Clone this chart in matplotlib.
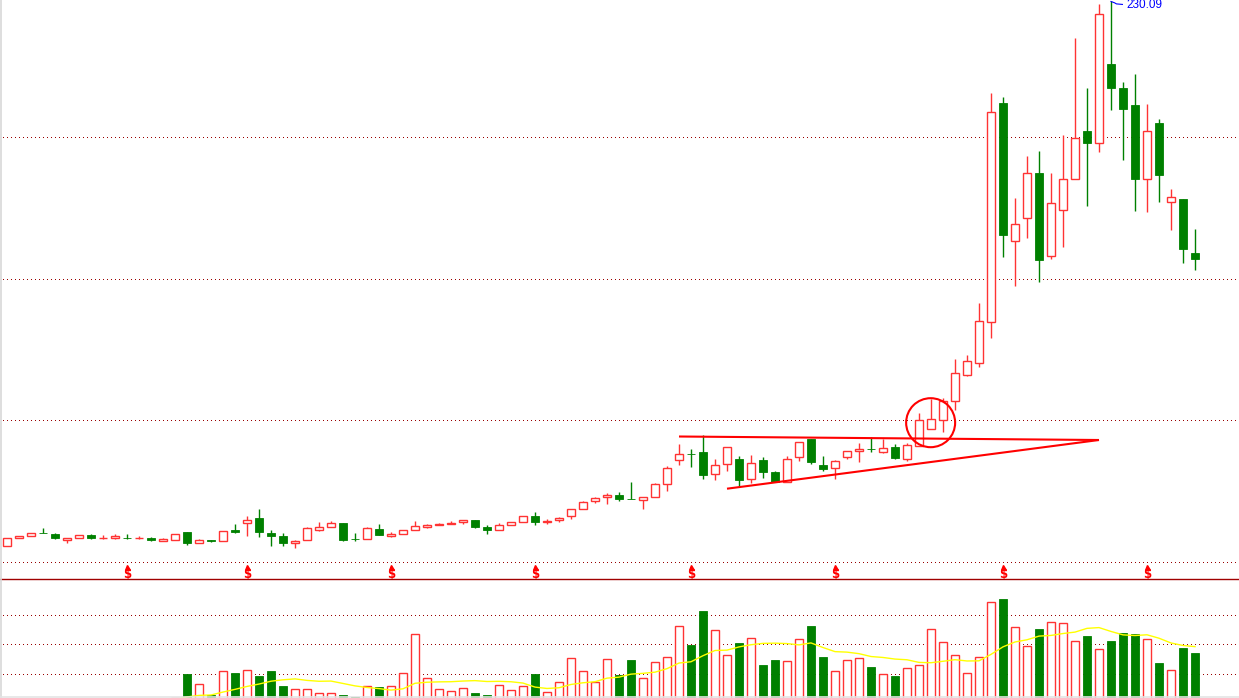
import matplotlib
matplotlib.use("Agg")
import matplotlib.pyplot as plt
from matplotlib.patches import Rectangle, Ellipse
from matplotlib.lines import Line2D
import numpy as np

# ---------------- data ----------------
opens = [26.01, 28.79, 29.54, 30.89, 30.40, 28.26, 28.79, 29.91, 28.79, 28.79,
         28.98, 28.79, 28.90, 27.89, 28.26, 31.15, 26.91, 28.11, 27.89, 31.90,
         34.41, 36.40, 30.78, 29.65, 26.91, 28.04, 32.01, 32.91, 34.53, 28.53,
         28.41, 32.28, 29.76, 30.29, 31.79, 33.14, 33.66, 34.04, 34.79, 35.65,
         33.14, 31.79, 33.66, 34.79, 37.15, 34.79, 35.54, 37.04, 39.66, 42.66,
         44.16, 45.03, 43.53, 43.26, 44.16, 49.04, 58.04, 60.48, 61.04, 52.79,
         56.54, 58.41, 50.91, 58.04, 53.54, 49.90, 59.28, 66.14, 56.28, 55.04,
         59.16, 61.41, 62.46, 61.26, 63.03, 58.53, 63.40, 69.66, 73.26, 80.16,
         90.14, 94.41, 109.79, 192.03, 140.16, 148.79, 165.78, 134.54, 151.79, 163.41,
         181.53, 176.91, 206.65, 197.65, 191.28, 163.41, 184.53, 154.79, 156.03, 135.78]

highs = [28.79, 29.54, 30.66, 32.54, 30.89, 28.79, 29.91, 30.40, 29.91, 30.40,
         30.40, 29.65, 29.16, 28.79, 30.40, 31.15, 28.41, 28.26, 31.64, 34.15,
         37.15, 39.78, 31.90, 30.78, 28.15, 32.91, 34.90, 35.16, 34.53, 30.78,
         33.03, 34.15, 31.04, 31.79, 35.28, 34.04, 34.41, 35.28, 35.65, 35.65,
         33.66, 34.41, 34.79, 37.04, 38.65, 35.91, 36.78, 39.66, 42.89, 44.16,
         45.66, 46.15, 49.90, 44.39, 49.53, 55.79, 64.15, 62.16, 67.53, 58.41,
         62.91, 59.65, 60.03, 59.16, 54.03, 59.54, 64.79, 66.14, 59.65, 58.15,
         61.41, 64.53, 66.89, 66.14, 64.04, 64.53, 75.66, 81.03, 81.29, 96.03,
         97.53, 117.03, 195.78, 194.28, 156.40, 172.15, 174.03, 165.78, 180.03, 216.40,
         197.65, 229.15, 230.09, 199.90, 202.90, 191.65, 186.03, 159.78, 156.03, 144.78]

lows = [26.01, 28.79, 29.54, 30.66, 28.64, 27.14, 28.79, 28.64, 28.64, 28.64,
        28.64, 28.64, 27.89, 27.89, 28.26, 26.39, 26.91, 27.51, 27.89, 30.89,
        29.76, 29.39, 26.01, 26.01, 25.15, 28.04, 31.64, 32.91, 27.89, 27.89,
        28.41, 29.91, 29.16, 30.29, 31.79, 32.76, 33.66, 34.04, 34.26, 32.76,
        30.51, 31.79, 33.66, 34.79, 33.89, 34.26, 34.79, 36.14, 39.66, 42.14,
        41.76, 42.89, 43.34, 39.89, 44.16, 46.64, 56.39, 55.64, 51.14, 50.76,
        54.14, 48.51, 49.41, 51.51, 49.90, 49.90, 57.89, 56.76, 54.14, 51.03,
        58.64, 57.51, 61.26, 60.89, 58.53, 57.89, 63.40, 69.66, 68.76, 77.01,
        89.76, 93.14, 104.01, 134.39, 123.51, 141.51, 125.01, 133.64, 138.14, 163.41,
        153.51, 173.76, 189.51, 170.76, 151.64, 151.26, 155.01, 144.51, 132.14, 129.51]

closes = [28.79, 29.54, 30.66, 30.66, 29.01, 28.79, 29.91, 29.01, 28.94, 29.54,
          28.79, 28.94, 28.26, 28.53, 30.40, 27.03, 28.15, 27.96, 31.53, 31.15,
          35.54, 31.26, 29.76, 27.14, 27.78, 32.54, 33.03, 34.41, 28.26, 28.34,
          32.54, 30.14, 30.51, 31.79, 33.29, 33.78, 34.15, 34.53, 35.65, 33.14,
          32.01, 33.66, 34.79, 37.04, 35.01, 35.28, 36.40, 39.66, 42.40, 43.79,
          44.91, 43.64, 43.41, 44.16, 49.15, 55.04, 60.29, 60.29, 52.64, 56.16,
          62.91, 50.76, 56.91, 53.76, 49.90, 58.41, 64.79, 57.51, 54.89, 57.78,
          61.41, 62.16, 62.28, 62.76, 59.01, 63.78, 73.04, 73.41, 80.16, 90.66,
          95.28, 110.16, 188.54, 142.64, 146.54, 165.66, 133.26, 154.41, 163.41, 178.79,
          177.14, 225.29, 197.76, 189.89, 163.64, 181.41, 165.14, 156.66, 137.39, 133.64]

volumes = [1.2, 1.0, 1.3, 1.5, 1.4, 1.1, 1.2, 1.6, 1.0, 1.3,
           1.5, 1.2, 1.4, 1.1, 1.8, 10.0, 6.6, 2.9, 11.0, 10.4,
           11.4, 9.3, 11.0, 5.9, 4.9, 4.9, 3.6, 3.6, 2.9, 2.2,
           5.9, 5.6, 5.9, 10.3, 23.6, 8.5, 4.8, 4.1, 5.2, 3.6,
           2.9, 6.2, 4.5, 5.8, 10.0, 3.8, 7.2, 15.3, 10.9, 7.2,
           15.0, 9.6, 14.7, 8.5, 14.0, 15.7, 26.2, 19.7, 31.4, 24.8,
           16.3, 20.5, 22.1, 13.1, 14.7, 14.3, 21.8, 26.3, 15.8, 10.9,
           14.6, 15.3, 12.4, 9.9, 9.3, 11.9, 12.9, 25.2, 20.7, 16.3,
           10.2, 15.8, 34.3, 35.4, 25.8, 19.4, 25.3, 27.5, 27.2, 21.1,
           22.9, 18.4, 21.2, 23.8, 23.6, 21.9, 13.7, 11.3, 18.8, 17.1]

signal_days = [10, 20, 32, 44, 57, 69, 83, 95]
price_grid = [19.90, 73.03, 126.15, 179.28]
volume_grid = [10, 20, 30]
resistance_x = [56.0, 91.0]
resistance_y = [66.96, 65.65]
support_x = [60.0, 91.0]
support_y = [47.39, 65.65]
circle_x, circle_y = 76.97, 72.14
ma_period = 10

# ---------------- styling ----------------
UP = '#FF3333'
DOWN = '#008000'
GRID = '#990000'
SEP = '#A00000'
LINE = '#FF0000'
PX = 0.72  # one pixel in points

W, H = 1239, 698
fig = plt.figure(figsize=(W / 100, H / 100), dpi=100)
fig.patch.set_facecolor('white')
sep_frac = (H - 579) / H
ax = fig.add_axes([0, sep_frac, 1, 1 - sep_frac])
axv = fig.add_axes([0, 0, 1, sep_frac])

n = len(closes)
xlim = (-7 / 12, (W - 7) / 12)
for a in (ax, axv):
    a.set_xlim(*xlim)
    a.axis('off')
ax.set_ylim(13.525, 230.65)
axv.set_ylim(1.86, 42.2)

dots = (0, (1, 3))
gx0 = 3 / W
for g in price_grid:
    ax.axhline(g, xmin=gx0, xmax=1, color=GRID, lw=PX, linestyle=dots,
               antialiased=False, zorder=0)
for g in volume_grid:
    axv.axhline(g, xmin=gx0, xmax=1, color=GRID, lw=PX, linestyle=dots,
                antialiased=False, zorder=0)

bw = 0.66
EW = 1.0
for i in range(n):
    o, h, l, c = opens[i], highs[i], lows[i], closes[i]
    if c >= o:
        ax.vlines(i, c, h, color=UP, lw=EW, zorder=2)
        ax.vlines(i, l, o, color=UP, lw=EW, zorder=2)
        ax.add_patch(Rectangle((i - bw / 2, o), bw, max(c - o, 0.05),
                               facecolor='white', edgecolor=UP, lw=EW, zorder=3))
    else:
        ax.vlines(i, l, h, color=DOWN, lw=EW, zorder=2)
        ax.add_patch(Rectangle((i - bw / 2, c), bw, o - c,
                               facecolor=DOWN, edgecolor=DOWN, lw=0.6, zorder=3))

# volume bars
for i in range(n):
    up = closes[i] >= opens[i]
    axv.add_patch(Rectangle((i - bw / 2, 0), bw, volumes[i],
                            facecolor='white' if up else DOWN,
                            edgecolor=UP if up else DOWN,
                            lw=EW if up else 0.6, zorder=2))
vol = np.array(volumes)
ma = np.convolve(vol, np.ones(ma_period) / ma_period, mode='valid')
axv.plot(np.arange(ma_period - 1, n), ma, color='#FFFF00', lw=1.0, zorder=4)

# pattern annotations
ax.plot(resistance_x, resistance_y, color=LINE, lw=1.5, zorder=5, solid_capstyle='butt')
ax.plot(support_x, support_y, color=LINE, lw=1.5, zorder=5, solid_capstyle='butt')
ax.add_patch(Ellipse((circle_x, circle_y), 49 / 12, 49 * 0.375, fill=False,
                     edgecolor=LINE, lw=1.5, zorder=6))

# signal markers
for d in signal_days:
    ax.text(d, 15.2, '$', color='#FF0000', fontsize=8.5, fontweight='bold',
            ha='center', va='center', zorder=5)
    ax.plot(d, 17.9, marker='^', ms=3.6, color='#FF0000', mec='#FF0000', zorder=5)

# highest price label
hi_idx = int(np.argmax(highs))
hi_val = highs[hi_idx]
ax.plot([hi_idx, hi_idx + 0.3, hi_idx + 0.45, hi_idx + 0.95],
        [hi_val, hi_val - 0.5, hi_val - 0.9, hi_val - 1.1],
        color='#0000FF', lw=0.8, zorder=6, clip_on=False)
ax.text(hi_idx + 1.25, hi_val - 1.3, f'{hi_val:.2f}', color='#0000FF',
        fontsize=8.5, family='Liberation Sans', ha='left', va='center', zorder=6)

# frame lines
fig.add_artist(Line2D([0, 1], [sep_frac, sep_frac], color=SEP, lw=1.0))
fig.add_artist(Line2D([0.6 / W, 0.6 / W], [0, 1], color='#D8D8D8', lw=1.2))
fig.add_artist(Line2D([0, 1], [0.6 / H, 0.6 / H], color='#E4E4E4', lw=1.2))

fig.savefig('out.png', dpi=100, facecolor='white')
